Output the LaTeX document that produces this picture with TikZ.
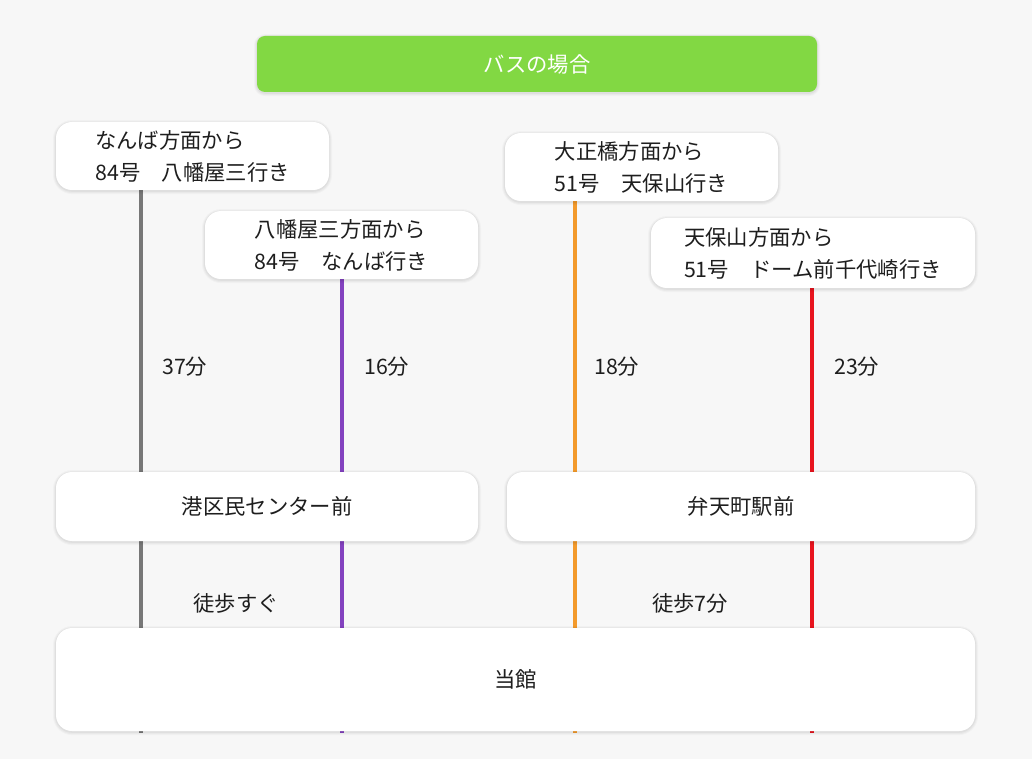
\documentclass[tikz,border=0pt]{standalone}
\usepackage{fontspec}
\setmainfont{Noto Sans CJK JP}
\pgfdeclarelayer{background}
\pgfdeclarelayer{bottom}
\pgfsetlayers{bottom,background,main}
\definecolor{bg}{HTML}{F7F7F7}
\definecolor{titlegreen}{HTML}{82D843}
\definecolor{lgray}{HTML}{777777}
\definecolor{lpurple}{HTML}{8342BF}
\definecolor{lorange}{HTML}{F39A2C}
\definecolor{lred}{HTML}{E8141E}
\definecolor{txt}{HTML}{1E1E1E}
\tikzset{
  softshadow/.style={
    preaction={draw=black, draw opacity=0.025, line width=4.5pt, transform canvas={yshift=-0.8pt}},
    preaction={draw=black, draw opacity=0.03, line width=3pt, transform canvas={yshift=-0.8pt}},
    preaction={draw=black, draw opacity=0.04, line width=1.5pt, transform canvas={yshift=-0.6pt}}},
  boxbase/.style={rounded corners=12pt, inner sep=0pt, align=left, text=txt,
    font=\fontsize{16}{24}\selectfont, softshadow},
  wbox/.style={boxbase, fill=white},
  tbox/.style={boxbase, fill=titlegreen, text=white, rounded corners=6pt},
  route/.style={line width=3pt},
  lbl/.style={font=\fontsize{16}{24}\selectfont, text=txt, inner sep=0pt}
}
\begin{document}
\begin{tikzpicture}[x=0.75pt, y=-0.75pt]
\begin{pgfonlayer}{bottom}
\fill[bg] (0,0) rectangle (1032,759);
\end{pgfonlayer}
\useasboundingbox (0,0) rectangle (1032,759);

\node[tbox, minimum width={560*0.75pt}, minimum height={56*0.75pt}] (title) at (537,64) {バスの場合};

\node[wbox, minimum width={273*0.75pt}, minimum height={68*0.75pt}] (A) at (192.5,156) {なんば方面から\\84号　八幡屋三行き};
\node[wbox, minimum width={273*0.75pt}, minimum height={68*0.75pt}] (B) at (341.5,245) {八幡屋三方面から\\84号　なんば行き};
\node[wbox, minimum width={273*0.75pt}, minimum height={68*0.75pt}] (C) at (641.5,167) {大正橋方面から\\51号　天保山行き};
\node[wbox, minimum width={324*0.75pt}, minimum height={70*0.75pt}] (D) at (813,253) {天保山方面から\\51号　ドーム前千代崎行き};

\node[wbox, minimum width={422*0.75pt}, minimum height={69*0.75pt}] (E) at (267,506.5) {港区民センター前};
\node[wbox, minimum width={468*0.75pt}, minimum height={69*0.75pt}] (F) at (741,506.5) {弁天町駅前};
\node[wbox, minimum width={919*0.75pt}, minimum height={103*0.75pt}] (G) at (515.5,679.5) {当館};

\coordinate (xg) at (141,0);
\coordinate (xp) at (342,0);
\coordinate (xo) at (575,0);
\coordinate (xr) at (812,0);
\coordinate (bot) at (0,733);

\begin{pgfonlayer}{background}
\draw[route, lgray] (A.south -| xg) -- (bot -| xg);
\draw[route, lpurple] (B.south -| xp) -- (bot -| xp);
\draw[route, lorange] (C.south -| xo) -- (bot -| xo);
\draw[route, lred] (D.south -| xr) -- (bot -| xr);
\end{pgfonlayer}

\node[lbl, anchor=west] (t1) at (162,367) {37分};
\node[lbl, anchor=west] (t2) at (364,367) {16分};
\node[lbl, anchor=west] (t3) at (594,367) {18分};
\node[lbl, anchor=west] (t4) at (834,367) {23分};
\node[lbl] (w1) at (236,603) {徒歩すぐ};
\node[lbl] (w2) at (690,603) {徒歩7分};
\end{tikzpicture}
\end{document}
